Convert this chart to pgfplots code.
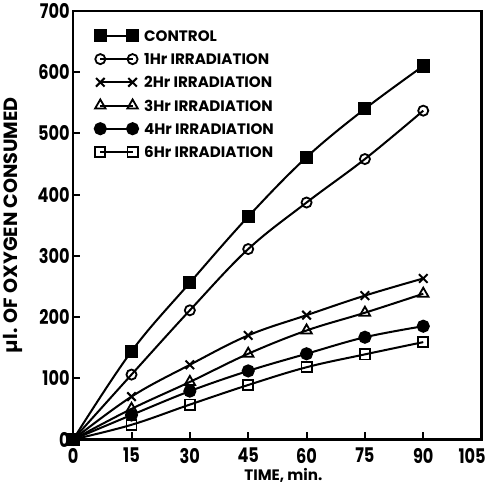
\documentclass[border=0pt]{standalone}
\usepackage{fontspec}
\setmainfont{Poppins}
\newfontfamily\ticks[FakeStretch=0.8]{Poppins}
\usepackage{pgfplots}
\pgfplotsset{compat=1.18}
\begin{document}
\begin{tikzpicture}
\begin{axis}[
  scale only axis, width=405pt, height=425pt,
  xmin=0, xmax=105, ymin=0, ymax=700,
  xtick={0,15,...,105}, ytick={0,100,...,700},
  xticklabels={0,15,30,45,60,75,90,\makebox[8pt][r]{105}},
  tick align=inside, xtick pos=bottom, ytick pos=left,
  major tick length=7pt,
  axis line style={line width=2.5pt},
  every tick/.style={line width=2pt, black},
  tick label style={font=\ticks\bfseries\fontsize{20}{20}\selectfont},
  xticklabel style={yshift=-5pt},
  /pgf/number format/assume math mode=true,
  xlabel={TIME, min.}, ylabel={µl. OF OXYGEN CONSUMED},
  xlabel style={font=\bfseries\fontsize{15}{15}\selectfont, yshift=2pt, xshift=6pt},
  ylabel style={font=\bfseries\fontsize{19}{19}\selectfont, yshift=8pt},
  every axis plot/.append style={black, line width=2pt, smooth, tension=0.6},
  legend style={at={(0.045,0.962)}, anchor=north west, draw=none, fill=none,
    font=\bfseries\fontsize{15}{15}\selectfont, row sep=10pt, column sep=5pt,
    nodes={inner sep=1pt, text height=11pt, text depth=0pt}},
  legend cell align=left,
  legend image code/.code={\draw[mark repeat=2, mark phase=1, #1]
    plot coordinates {(0pt,0pt) (16pt,0pt) (32pt,0pt)};},
]
\addplot[mark=square*, mark size=5.5pt] coordinates {(0,0) (15,144) (30,256) (45,364) (60,461) (75,540) (90,610)};
\addlegendentry{CONTROL}
\addplot[mark=o, mark size=5pt, mark options={fill=white, line width=1.8pt}] coordinates {(0,0) (15,106) (30,211) (45,311) (60,387) (75,458) (90,537)};
\addlegendentry{1Hr IRRADIATION}
\addplot[mark=x, mark size=6pt] coordinates {(0,0) (15,70) (30,122) (45,170) (60,203) (75,235) (90,263)};
\addlegendentry{2Hr IRRADIATION}
\addplot[mark=triangle, mark size=6pt, mark options={fill=white, line width=1.8pt}] coordinates {(0,0) (15,50) (30,94) (45,140) (60,178) (75,207) (90,238)};
\addlegendentry{3Hr IRRADIATION}
\addplot[mark=*, mark size=5.5pt] coordinates {(0,0) (15,40) (30,79) (45,112) (60,140) (75,167) (90,185)};
\addlegendentry{4Hr IRRADIATION}
\addplot[mark=square, mark size=5pt, mark options={fill=white, line width=1.8pt}] coordinates {(0,0) (15,24) (30,57) (45,89) (60,118) (75,139) (90,159)};
\addlegendentry{6Hr IRRADIATION}
\end{axis}
\end{tikzpicture}
\end{document}
